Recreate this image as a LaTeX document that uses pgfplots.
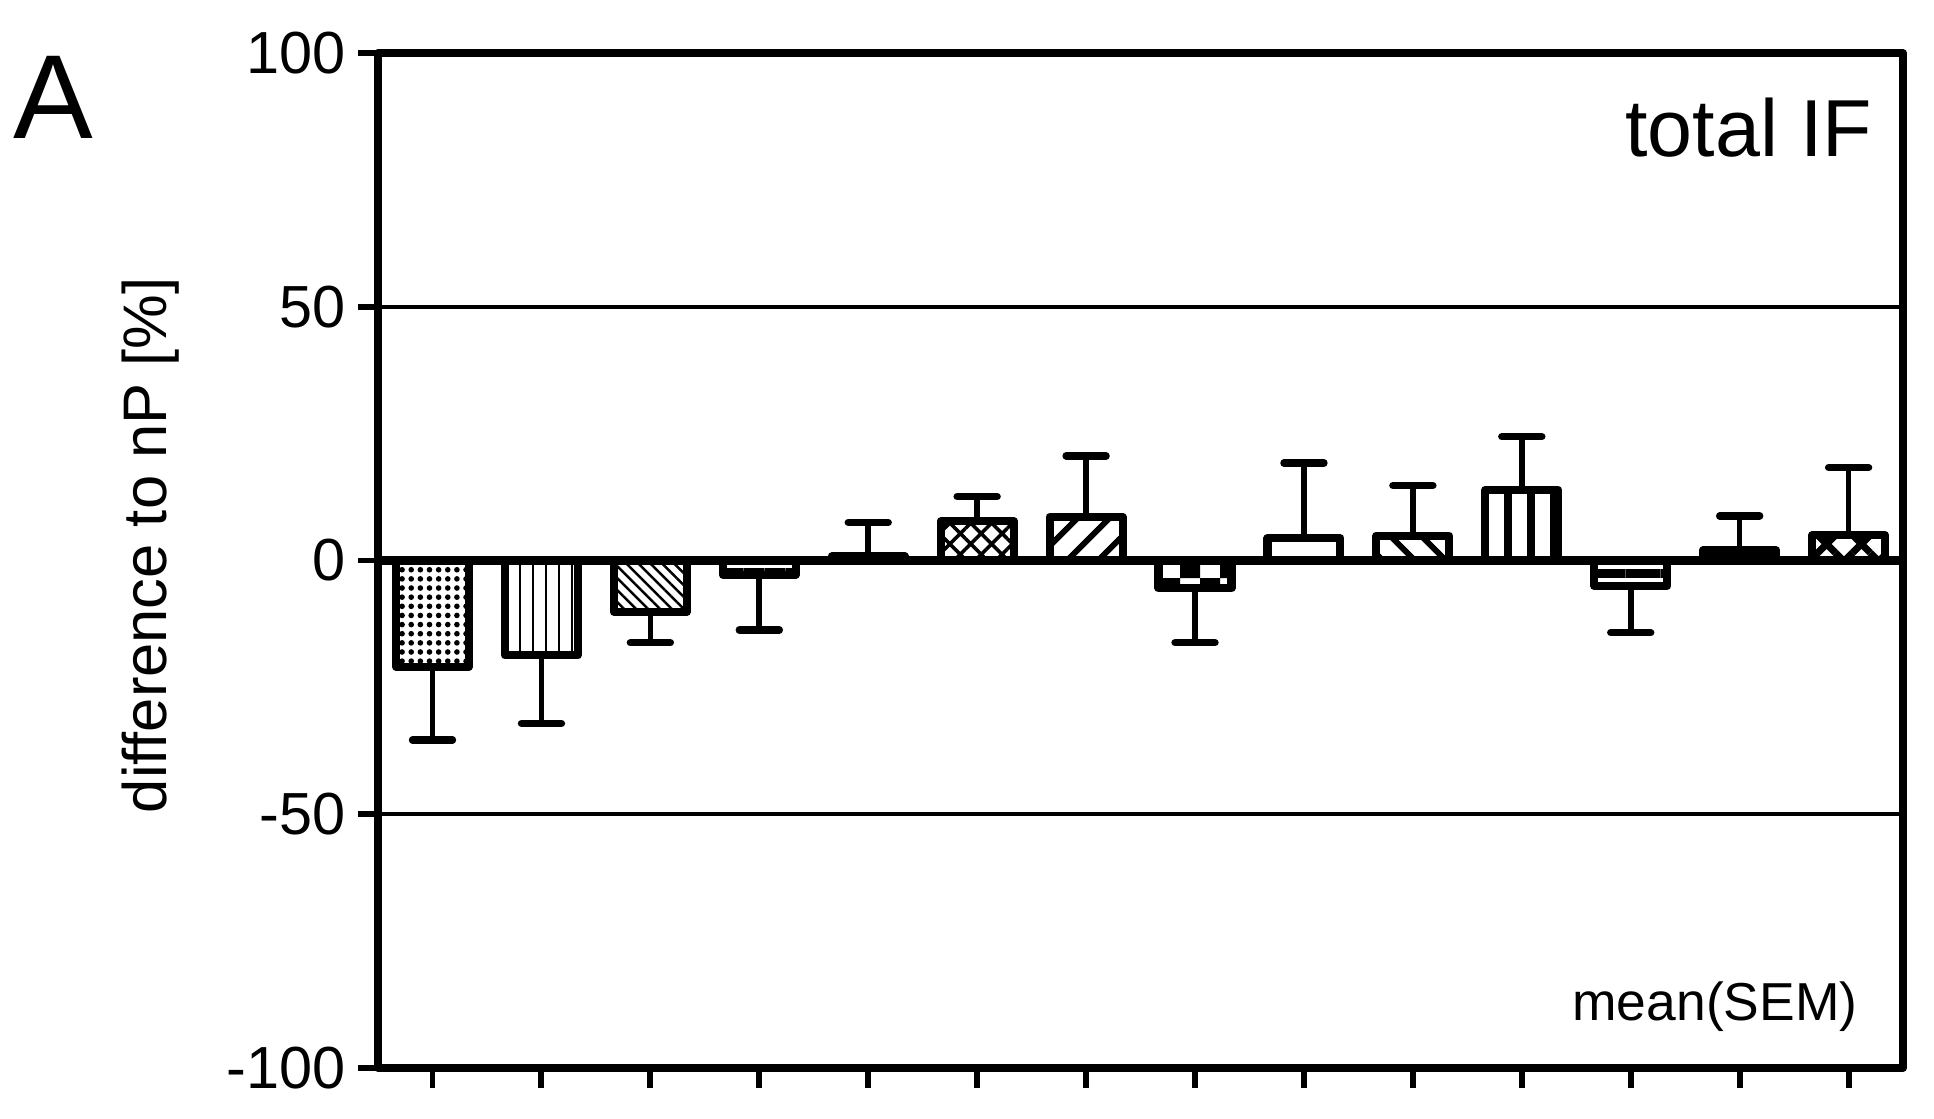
\documentclass[border=0pt]{standalone}
\usepackage{fontspec}
\setmainfont{Liberation Sans}
\usepackage{pgfplots}
\pgfplotsset{compat=1.18}
\usetikzlibrary{patterns,patterns.meta}

\pgfplotsset{
  pbar/.style={ybar, bar shift=0pt, bar width=0.67, draw=black, line width=2.3pt, line join=round,
    /pgfplots/error bars/y explicit,
    /pgfplots/error bars/error bar style={line width=1.6pt, black},
    /pgfplots/error bars/error mark options={rotate=90, line width=2.1pt, mark size=0.2cm, black, line cap=round}},
}

\begin{document}
\begin{tikzpicture}
\begin{axis}[
    width=15.25cm, height=10.15cm, scale only axis,
    xmin=0.5, xmax=14.5, ymin=-100, ymax=100,
    xtick={1,...,14}, xticklabels={},
    ytick={-100,-50,0,50,100},
    xtick pos=bottom, ytick pos=left,
    tick align=outside, major tick length=0.2cm,
    tick style={line width=1.7pt, black},
    axis line style={line width=2.3pt, line join=round},
    ymajorgrids, grid style={line width=1.1pt, black},
    /pgf/number format/assume math mode=true,
    yticklabel style={font=\fontsize{16.9}{20}\selectfont},
    ylabel={difference to nP [\%]},
    ylabel style={font=\fontsize{17.5}{20}\selectfont, at={(axis description cs:-0.149,0.515)}, anchor=center},
    clip=false,
]
\path (rel axis cs:-0.2479,-0.0493) rectangle (rel axis cs:1.0203,1.0522);
\draw[line width=2.3pt] (axis cs:0.5,0) -- (axis cs:14.5,0);

\addplot[pbar, pattern={Dots[distance=2.6pt,radius=0.8pt]}, error bars/y dir=minus] coordinates {(1,-20.9) +- (0,14.5)};
\addplot[pbar, pattern={Lines[angle=90,distance=3.7pt,line width=0.7pt]}, error bars/y dir=minus] coordinates {(2,-18.7) +- (0,13.4)};
\addplot[pbar, pattern={Lines[angle=-45,distance=2.4pt,line width=0.7pt]}, error bars/y dir=minus] coordinates {(3,-10.1) +- (0,6.1)};
\addplot[pbar, pattern={Lines[angle=0,distance=3pt,line width=0.8pt]}, error bars/y dir=minus] coordinates {(4,-2.8) +- (0,10.9)};
\addplot[pbar, fill=white, error bars/y dir=plus] coordinates {(5,0.8) +- (0,6.7)};
\addplot[pbar, pattern={Hatch[angle=45,distance=4.2pt,line width=1pt]}, error bars/y dir=plus] coordinates {(6,7.7) +- (0,4.9)};
\addplot[pbar, pattern={Lines[angle=45,distance=6.4pt,line width=1.7pt]}, error bars/y dir=plus] coordinates {(7,8.6) +- (0,12.0)};
\addplot[pbar, pattern=checkerboard, error bars/y dir=minus] coordinates {(8,-5.5) +- (0,10.7)};
\addplot[pbar, fill=white, error bars/y dir=plus] coordinates {(9,4.4) +- (0,14.8)};
\addplot[pbar, pattern={Lines[angle=-45,distance=6.4pt,line width=1.7pt]}, error bars/y dir=plus] coordinates {(10,4.9) +- (0,9.9)};
\addplot[pbar, pattern={Lines[angle=90,distance=6.6pt,line width=2.3pt]}, error bars/y dir=plus] coordinates {(11,13.9) +- (0,10.5)};
\addplot[pbar, pattern={Lines[angle=0,distance=5pt,line width=2.5pt]}, error bars/y dir=minus] coordinates {(12,-5.0) +- (0,9.2)};
\addplot[pbar, fill=black, error bars/y dir=plus] coordinates {(13,2.0) +- (0,6.8)};
\addplot[pbar, pattern={Hatch[angle=45,distance=7pt,line width=2pt]}, error bars/y dir=plus] coordinates {(14,5.0) +- (0,13.3)};

\node[anchor=base west, inner sep=0pt, font=\fontsize{34}{40}\selectfont] at (rel axis cs:-0.2393,0.9153) {A};
\node[anchor=base east, inner sep=0pt, font=\fontsize{23}{28}\selectfont] at (rel axis cs:0.9803,0.8978) {total IF};
\node[anchor=base east, inner sep=0pt, font=\fontsize{15.2}{18}\selectfont] at (rel axis cs:0.9705,0.0466) {mean(SEM)};
\end{axis}
\end{tikzpicture}
\end{document}
